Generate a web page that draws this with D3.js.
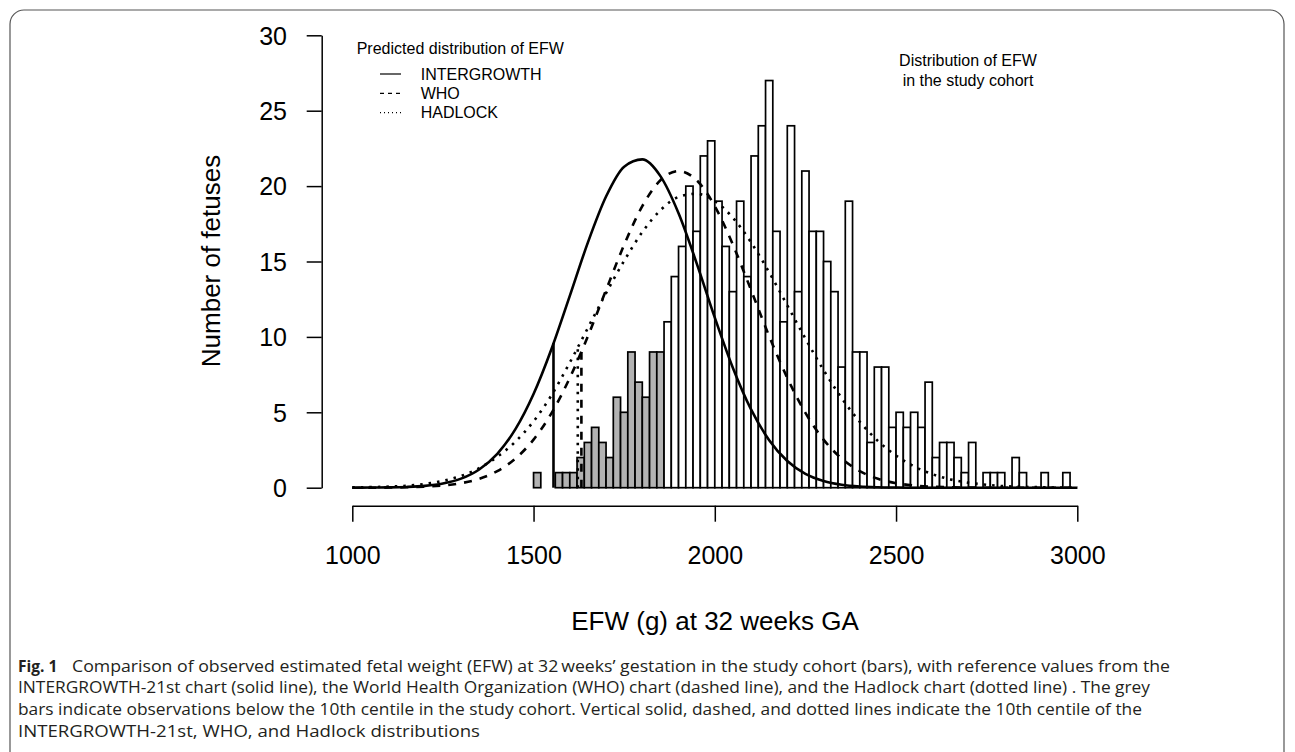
<!DOCTYPE html>
<html>
<head>
<meta charset="utf-8">
<script src="https://cdn.jsdelivr.net/npm/d3@7"></script>
<style>
  body { margin: 0; background: #fff; }
  svg { display: block; }
</style>
</head>
<body>
<svg id="chart" width="1295" height="752"></svg>
<script>
// observed cohort histogram (20 g bins from 1500 g)
const binEdges = d3.range(1500, 3000, 20)
const counts = [
  1, 0, 0, 1, 1, 1, 2, 3, 4, 3, 2, 6, 5, 9, 7, 6, 9, 9,
  11, 14, 16, 20, 17, 22, 23, 19, 16, 13, 19, 14, 22, 24, 27, 17, 11, 24, 13, 21,
  17, 17, 15, 13, 8, 19, 9, 9, 3, 8, 8, 4, 5, 4, 5, 4, 7, 2, 3, 3, 2, 1,
  3, 0, 1, 1, 1, 0, 2, 1, 0, 0, 1, 0, 0, 1, 0
]
const cohortCentile10 = 1860

// predicted distributions, read every 50 g
const curveEFW = d3.range(1000, 3001, 50)
const intergrowth = [
  0.00, 0.01, 0.02, 0.05, 0.12, 0.28, 0.60, 1.21, 2.25, 3.88, 6.21, 9.23, 12.72, 16.27,
  19.31, 21.29, 21.77, 20.66, 18.20, 14.88, 11.28, 7.94, 5.19, 3.15, 1.77, 0.92, 0.45,
  0.20, 0.08, 0.03, 0.01, 0, 0, 0, 0, 0, 0, 0, 0, 0, 0
]
const who = [
  0.00, 0.00, 0.01, 0.03, 0.07, 0.15, 0.30, 0.59, 1.10, 1.93, 3.19, 4.96, 7.28, 10.05,
  13.11, 16.11, 18.67, 20.39, 21.00, 20.39, 18.67, 16.11, 13.11, 10.05, 7.28, 4.96, 3.19,
  1.93, 1.10, 0.59, 0.30, 0.15, 0.07, 0.03, 0.01, 0, 0, 0, 0, 0, 0
]
const hadlock = [
  0.02, 0.04, 0.07, 0.13, 0.25, 0.45, 0.78, 1.30, 2.05, 3.05, 4.40, 6.15, 8.30, 10.60,
  12.90, 15.05, 16.95, 18.40, 19.28, 19.49, 19.01, 17.90, 16.27, 14.28, 12.09, 9.89, 7.80,
  5.94, 4.37, 3.10, 2.13, 1.41, 0.90, 0.55, 0.33, 0.19, 0.10, 0.06, 0.03, 0.01, 0.01
]

// 10th centile of each chart and the curve height there
const centileNames = ['INTERGROWTH', 'WHO', 'HADLOCK']
const centileEFW = [1555, 1632, 1622]
const centileHeight = [9.6, 9.0, 9.3]

const xTicks = [1000, 1500, 2000, 2500, 3000]
const yTicks = [0, 5, 10, 15, 20, 25, 30]

const captionLines = [
  'Comparison of observed estimated fetal weight (EFW) at 32\u2009weeks\u2019 gestation in the study cohort (bars), with reference values from the',
  'INTERGROWTH-21st chart (solid line), the World Health Organization (WHO) chart (dashed line), and the Hadlock chart (dotted line) . The grey',
  'bars indicate observations below the 10th centile in the study cohort. Vertical solid, dashed, and dotted lines indicate the 10th centile of the',
  'INTERGROWTH-21st, WHO, and Hadlock distributions'
]

const svg = d3.select('#chart')
const font = 'Liberation Sans, Arial, Helvetica, sans-serif'

const x = d3.scaleLinear().domain([1000, 3000]).range([352.3, 1077.3])
const y = d3.scaleLinear().domain([0, 30]).range([487.7, 35.3])

const styles = {
  INTERGROWTH: { dash: null },
  WHO: { dash: '8,8' },
  HADLOCK: { dash: '2.5,6' }
}

// frame
svg.append('rect')
  .attr('x', 10).attr('y', 10)
  .attr('width', 1274).attr('height', 820)
  .attr('rx', 14)
  .style('fill', 'none')
  .style('stroke', '#555')
  .style('stroke-width', 1.2)

// histogram
const bins = binEdges.map((x0, i) => ({ x0, x1: x0 + 20, n: counts[i] }))
svg.append('g').selectAll('rect')
  .data(bins)
  .enter()
  .append('rect')
  .attr('x', d => x(d.x0))
  .attr('y', d => y(d.n))
  .attr('width', d => x(d.x1) - x(d.x0))
  .attr('height', d => y(0) - y(d.n))
  .style('fill', d => d.x0 < cohortCentile10 ? '#b3b3b3' : '#fff')
  .style('stroke', '#000')
  .style('stroke-width', 1.7)

// predicted curves
const series = [
  { name: 'INTERGROWTH', values: intergrowth },
  { name: 'WHO', values: who },
  { name: 'HADLOCK', values: hadlock }
]
const line = d3.line()
  .x((d, i) => x(curveEFW[i]))
  .y(d => y(d))
  .curve(d3.curveMonotoneX)

svg.append('g').selectAll('path')
  .data(series)
  .enter()
  .append('path')
  .attr('d', d => line(d.values))
  .style('fill', 'none')
  .style('stroke', '#000')
  .style('stroke-width', 2.6)
  .style('stroke-dasharray', d => styles[d.name].dash)

// 10th centile verticals
svg.append('g').selectAll('line')
  .data(centileNames)
  .enter()
  .append('line')
  .attr('x1', (d, i) => x(centileEFW[i]))
  .attr('x2', (d, i) => x(centileEFW[i]))
  .attr('y1', y(0))
  .attr('y2', (d, i) => y(centileHeight[i]))
  .style('stroke', '#000')
  .style('stroke-width', 2.6)
  .style('stroke-dasharray', d => styles[d].dash)

// axes
const xAxis = svg.append('g')
  .attr('transform', 'translate(0,505.7)')
  .call(d3.axisBottom(x).tickValues(xTicks).tickSize(16).tickSizeOuter(0).tickFormat(d3.format('d')))
xAxis.selectAll('text').attr('y', 50).attr('dy', '0.35em')

const yAxis = svg.append('g')
  .attr('transform', 'translate(321.7,0)')
  .call(d3.axisLeft(y).tickValues(yTicks).tickSize(15).tickSizeOuter(0))
yAxis.selectAll('text').attr('x', -34.7).attr('dy', '0.35em')

svg.selectAll('.domain, .tick line').style('stroke', '#000').style('stroke-width', 1.5)
svg.selectAll('.tick text')
  .style('font-family', font)
  .style('font-size', '25px')
  .style('fill', '#000')

// axis titles
svg.append('text')
  .attr('x', 715).attr('y', 630)
  .attr('text-anchor', 'middle')
  .style('font-family', font)
  .style('font-size', '26px')
  .text('EFW (g) at 32 weeks GA')

svg.append('text')
  .attr('transform', 'translate(220,261) rotate(-90)')
  .attr('text-anchor', 'middle')
  .style('font-family', font)
  .style('font-size', '26px')
  .text('Number of fetuses')

// legend
const legend = svg.append('g').style('font-family', font).style('font-size', '16px')
legend.append('text').attr('x', 356.7).attr('y', 54).text('Predicted distribution of EFW')
const entries = legend.selectAll('.entry')
  .data(series)
  .enter()
  .append('g')
  .attr('class', 'entry')
  .attr('transform', (d, i) => `translate(0, ${74 + i * 19.3})`)
entries.append('line')
  .attr('x1', 380).attr('x2', 401)
  .style('stroke', '#000')
  .style('stroke-width', 1.2)
  .style('stroke-dasharray', d => d.name === 'WHO' ? '4,4' : d.name === 'HADLOCK' ? '1,3' : null)
entries.append('text')
  .attr('x', 420.7).attr('dy', '0.35em')
  .text(d => d.name)

// cohort label
const cohort = svg.append('g')
  .style('font-family', font)
  .style('font-size', '16px')
  .attr('text-anchor', 'middle')
cohort.append('text').attr('x', 968).attr('y', 66.4).text('Distribution of EFW')
cohort.append('text').attr('x', 968).attr('y', 86).text('in the study cohort')

// caption
const capFont = 'Open Sans, Noto Sans, sans-serif'
const capWidths = [1152, 1132, 1124, 462]
const caption = svg.append('g')
  .style('font-family', capFont)
  .style('font-size', '15.5px')
  .style('fill', '#231f20')
caption.append('text')
  .attr('x', 18).attr('y', 671.5)
  .style('font-weight', 'bold')
  .text('Fig. 1')
caption.selectAll('.cap')
  .data(captionLines)
  .enter()
  .append('text')
  .attr('class', 'cap')
  .attr('x', (d, i) => i === 0 ? 72 : 18)
  .attr('y', (d, i) => 671.5 + i * 21.7)
  .attr('textLength', (d, i) => i === 0 ? capWidths[0] - 54 : capWidths[i])
  .attr('lengthAdjust', 'spacingAndGlyphs')
  .text(d => d)
</script>
</body>
</html>
